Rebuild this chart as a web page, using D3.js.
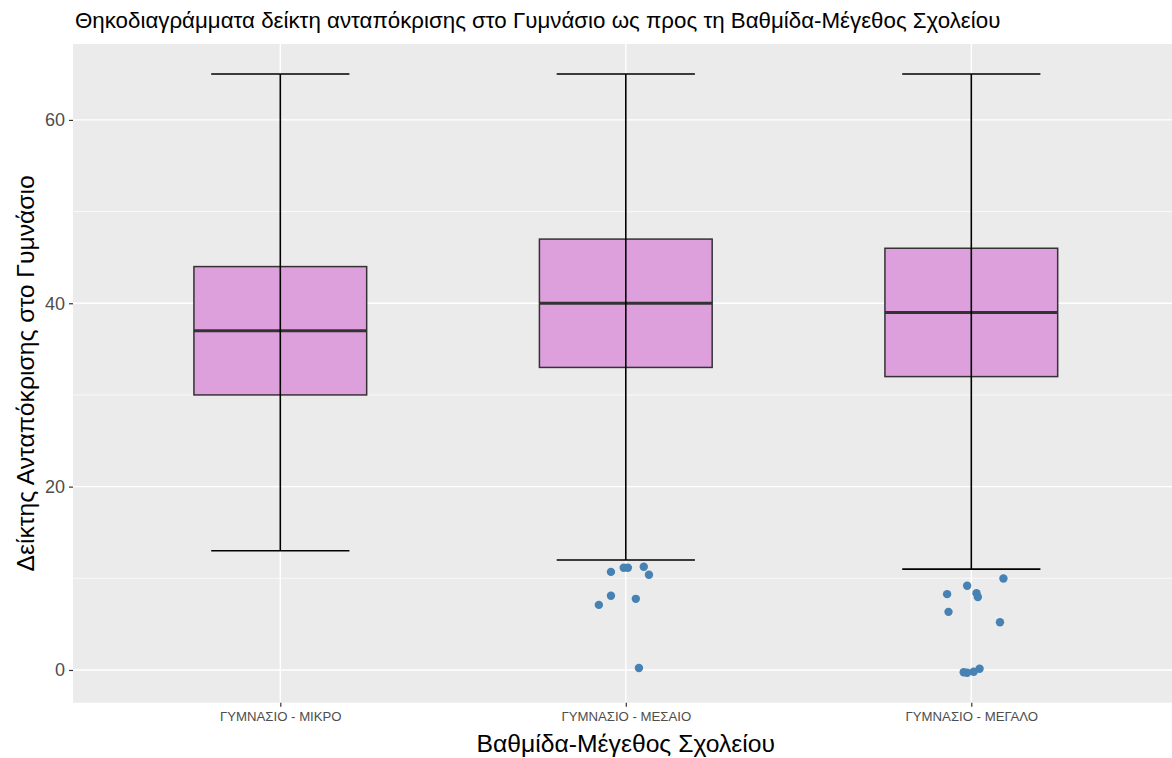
<!DOCTYPE html>
<html>
<head>
<meta charset="utf-8">
<script src="https://cdn.jsdelivr.net/npm/d3@7"></script>
<style>
body { margin: 0; background: #fff; }
text { font-family: "Liberation Sans", Arial, sans-serif; }
</style>
</head>
<body>
<script>
// box statistics per category
var categories = ["ΓΥΜΝΑΣΙΟ - ΜΙΚΡΟ", "ΓΥΜΝΑΣΙΟ - ΜΕΣΑΙΟ", "ΓΥΜΝΑΣΙΟ - ΜΕΓΑΛΟ"];
var whiskerLow = [13, 12, 11];
var q1 = [30, 33, 32];
var median = [37, 40, 39];
var q3 = [44, 47, 46];
var whiskerHigh = [65, 65, 65];
var yTicks = [0, 20, 40, 60];
var yMinor = [10, 30, 50];

// jittered points: [category index, horizontal jitter (fraction of step), value]
var outliers = [
    [1, -0.043, 10.7], [1, -0.006, 11.15], [1, 0.006, 11.15], [1, 0.052, 11.26],
    [1, 0.067, 10.38], [1, -0.043, 8.09], [1, -0.078, 7.1], [1, 0.029, 7.76],
    [1, 0.038, 0.22],
    [2, 0.093, 9.98], [2, -0.012, 9.18], [2, -0.070, 8.27], [2, 0.015, 8.38],
    [2, 0.019, 7.95], [2, -0.066, 6.34], [2, 0.083, 5.21], [2, -0.022, -0.25],
    [2, -0.012, -0.3], [2, 0.007, -0.19], [2, 0.024, 0.14]
];

var w = 1172;
var h = 758;
var pLeft = 73, pTop = 44, pBottom = 702.7, pRight = 1178.6;

var svg = d3.select("body")
    .append("svg")
    .attr("width", w)
    .attr("height", h);

var x = d3.scalePoint()
    .domain(categories)
    .range([pLeft, pRight])
    .padding(0.6);
var step = x.step();

var y = d3.scaleLinear()
    .domain([-3.57, 68.28])
    .range([pBottom, pTop]);

// panel background
svg.append("rect")
    .attr("x", pLeft).attr("y", pTop)
    .attr("width", pRight - pLeft).attr("height", pBottom - pTop)
    .attr("fill", "#EBEBEB");

// grid
svg.selectAll(".minor")
    .data(yMinor)
    .enter().append("line")
    .attr("x1", pLeft).attr("x2", pRight)
    .attr("y1", function(d) { return y(d); })
    .attr("y2", function(d) { return y(d); })
    .attr("stroke", "#fff").attr("stroke-width", 0.7);

svg.selectAll(".major")
    .data(yTicks)
    .enter().append("line")
    .attr("x1", pLeft).attr("x2", pRight)
    .attr("y1", function(d) { return y(d); })
    .attr("y2", function(d) { return y(d); })
    .attr("stroke", "#fff").attr("stroke-width", 1.4);

svg.selectAll(".vgrid")
    .data(categories)
    .enter().append("line")
    .attr("x1", function(d) { return x(d); })
    .attr("x2", function(d) { return x(d); })
    .attr("y1", pTop).attr("y2", pBottom)
    .attr("stroke", "#fff").attr("stroke-width", 1.4);

// boxes
var boxW = step * 0.5;
var capW = step * 0.4;

var g = svg.selectAll(".box")
    .data(categories)
    .enter().append("g");

g.append("rect")
    .attr("x", function(d) { return x(d) - boxW / 2; })
    .attr("y", function(d, i) { return y(q3[i]); })
    .attr("width", boxW)
    .attr("height", function(d, i) { return y(q1[i]) - y(q3[i]); })
    .attr("fill", "#DDA0DD")
    .attr("stroke", "#333333")
    .attr("stroke-width", 1.5);

g.append("line")
    .attr("x1", function(d) { return x(d) - boxW / 2; })
    .attr("x2", function(d) { return x(d) + boxW / 2; })
    .attr("y1", function(d, i) { return y(median[i]); })
    .attr("y2", function(d, i) { return y(median[i]); })
    .attr("stroke", "#333333")
    .attr("stroke-width", 3);

// error bar whiskers
g.append("line")
    .attr("x1", function(d) { return x(d); })
    .attr("x2", function(d) { return x(d); })
    .attr("y1", function(d, i) { return y(whiskerLow[i]); })
    .attr("y2", function(d, i) { return y(whiskerHigh[i]); })
    .attr("stroke", "#000").attr("stroke-width", 1.6);

g.append("line")
    .attr("x1", function(d) { return x(d) - capW / 2; })
    .attr("x2", function(d) { return x(d) + capW / 2; })
    .attr("y1", function(d, i) { return y(whiskerLow[i]); })
    .attr("y2", function(d, i) { return y(whiskerLow[i]); })
    .attr("stroke", "#000").attr("stroke-width", 1.6);

g.append("line")
    .attr("x1", function(d) { return x(d) - capW / 2; })
    .attr("x2", function(d) { return x(d) + capW / 2; })
    .attr("y1", function(d, i) { return y(whiskerHigh[i]); })
    .attr("y2", function(d, i) { return y(whiskerHigh[i]); })
    .attr("stroke", "#000").attr("stroke-width", 1.6);

// jittered points
svg.selectAll(".pt")
    .data(outliers)
    .enter().append("circle")
    .attr("cx", function(d) { return x(categories[d[0]]) + d[1] * step; })
    .attr("cy", function(d) { return y(d[2]); })
    .attr("r", 4.2)
    .attr("fill", "#4682B4");

// axes
var yAxis = svg.append("g")
    .attr("transform", "translate(" + pLeft + ",0)")
    .call(d3.axisLeft(y).tickValues(yTicks).tickSize(4).tickPadding(4));
yAxis.select(".domain").remove();
yAxis.selectAll(".tick line").attr("stroke", "#333333").attr("stroke-width", 1.2);
yAxis.selectAll(".tick text")
    .attr("fill", "#4D4D4D")
    .style("font-size", "18px")
    .style("font-family", "Liberation Sans, Arial, sans-serif");

var xAxis = svg.append("g")
    .attr("transform", "translate(0," + pBottom + ")")
    .call(d3.axisBottom(x).tickSize(4).tickPadding(5));
xAxis.select(".domain").remove();
xAxis.selectAll(".tick line").attr("stroke", "#333333").attr("stroke-width", 1.2);
xAxis.selectAll(".tick text")
    .attr("fill", "#4D4D4D")
    .style("font-size", "13.2px")
    .style("font-family", "Liberation Sans, Arial, sans-serif");

// titles
svg.append("text")
    .attr("x", 75).attr("y", 28)
    .style("font-size", "22.3px")
    .attr("fill", "#000")
    .text("Θηκοδιαγράμματα δείκτη ανταπόκρισης στο Γυμνάσιο ως προς τη Βαθμίδα-Μέγεθος Σχολείου");

svg.append("text")
    .attr("x", (pLeft + pRight) / 2).attr("y", 752)
    .attr("text-anchor", "middle")
    .style("font-size", "24.7px")
    .attr("fill", "#000")
    .text("Βαθμίδα-Μέγεθος Σχολείου");

svg.append("text")
    .attr("transform", "translate(34," + ((pTop + pBottom) / 2) + ") rotate(-90)")
    .attr("text-anchor", "middle")
    .style("font-size", "24.7px")
    .attr("fill", "#000")
    .text("Δείκτης Ανταπόκρισης στο Γυμνάσιο");
</script>
</body>
</html>
